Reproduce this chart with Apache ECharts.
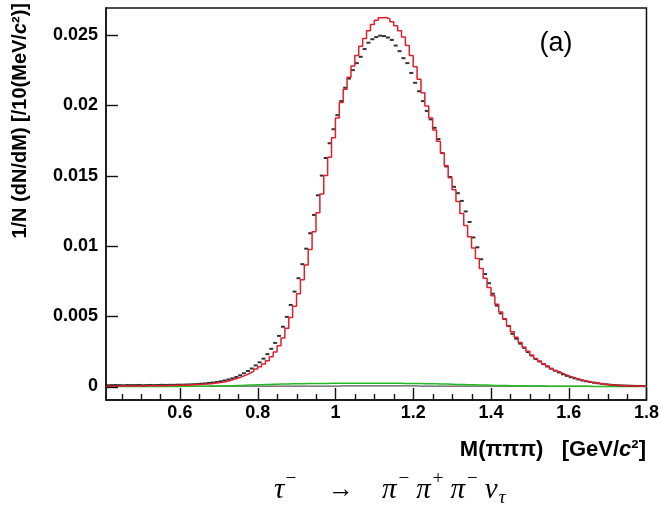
<!DOCTYPE html>
<html><head><meta charset="utf-8">
<script src="https://cdn.jsdelivr.net/npm/echarts@6/dist/echarts.min.js"></script>
<style>html,body{margin:0;padding:0;background:#fff}#c{width:662px;height:528px}</style>
</head><body><div id="c"></div>
<script>
// Histogram binning: 10 MeV bins from 0.41 to 1.80 GeV
const binStart = 0.41;
const binWidth = 0.01;

// MC prediction (red histogram)
const mcValues = [
0.00002,0.00002,0.00002,0.00003,0.00003,0.00003,0.00003,0.00004,0.00004,0.00004,
0.00005,0.00005,0.00005,0.00006,0.00006,0.00007,0.00007,0.00008,0.00009,0.00010,
0.00011,0.00012,0.00013,0.00015,0.00016,0.00018,0.00020,0.00023,0.00026,0.00030,
0.00036,0.00043,0.00051,0.00060,0.00070,0.00081,0.00094,0.00108,0.00124,0.00141,
0.00160,0.00183,0.00212,0.00245,0.00290,0.00345,0.00415,0.00490,0.00570,0.00660,
0.00760,0.00865,0.00975,0.01100,0.01235,0.01370,0.01500,0.01630,0.01770,0.01910,
0.02020,0.02115,0.02200,0.02280,0.02355,0.02420,0.02475,0.02530,0.02575,0.02605,
0.02623,0.02625,0.02615,0.02595,0.02565,0.02530,0.02485,0.02425,0.02355,0.02275,
0.02185,0.02090,0.01995,0.01910,0.01825,0.01745,0.01660,0.01570,0.01485,0.01400,
0.01315,0.01230,0.01145,0.01065,0.00985,0.00910,0.00840,0.00770,0.00705,0.00645,
0.00585,0.00530,0.00480,0.00432,0.00390,0.00350,0.00313,0.00280,0.00250,0.00223,
0.00200,0.00180,0.00162,0.00145,0.00128,0.00113,0.00100,0.00088,0.00077,0.00067,
0.00058,0.00050,0.00043,0.00037,0.00031,0.00026,0.00022,0.00018,0.00015,0.00012,
0.00010,0.00008,0.00006,0.00005,0.00004,0.00003,0.00002,0.00002,0.00001
];

// Data (black points)
const dataValues = [
0.00009,0.00010,0.00011,0.00010,0.00009,0.00011,0.00010,0.00010,0.00011,0.00009,
0.00010,0.00011,0.00010,0.00011,0.00012,0.00011,0.00012,0.00012,0.00013,0.00013,
0.00014,0.00015,0.00016,0.00018,0.00020,0.00022,0.00025,0.00028,0.00032,0.00037,
0.00043,0.00050,0.00058,0.00068,0.00080,0.00094,0.00110,0.00128,0.00150,0.00172,
0.00198,0.00230,0.00268,0.00310,0.00360,0.00425,0.00495,0.00580,0.00675,0.00770,
0.00870,0.00980,0.01090,0.01220,0.01360,0.01500,0.01625,0.01730,0.01830,0.01930,
0.02030,0.02125,0.02190,0.02250,0.02300,0.02345,0.02400,0.02445,0.02470,0.02485,
0.02495,0.02492,0.02482,0.02465,0.02425,0.02385,0.02335,0.02300,0.02230,0.02160,
0.02100,0.02030,0.01960,0.01900,0.01840,0.01760,0.01660,0.01565,0.01490,0.01420,
0.01375,0.01320,0.01245,0.01170,0.01060,0.00990,0.00905,0.00800,0.00735,0.00660,
0.00575,0.00520,0.00480,0.00430,0.00375,0.00340,0.00305,0.00275,0.00245,0.00220,
0.00195,0.00178,0.00160,0.00142,0.00126,0.00112,0.00100,0.00087,0.00076,0.00066,
0.00058,0.00050,0.00043,0.00037,0.00032,0.00027,0.00023,0.00019,0.00016,0.00013,
0.00011,0.00009,0.00008,0.00007,0.00006,0.00005,0.00004,0.00004,0.00003
];

// Background (green histogram)
const bkgGreen = [
0,0,0,0,0,0,0,0,0,0,
0,0,0,0,0,0,0,0,0,0.00001,
0.00001,0.00001,0.00001,0.00002,0.00002,0.00002,0.00003,0.00003,0.00004,0.00004,
0.00005,0.00005,0.00006,0.00007,0.00008,0.00009,0.00010,0.00011,0.00012,0.00013,
0.00014,0.00015,0.00016,0.00016,0.00017,0.00018,0.00018,0.00019,0.00019,0.00020,
0.00020,0.00021,0.00021,0.00021,0.00022,0.00022,0.00022,0.00023,0.00023,0.00023,
0.00023,0.00024,0.00024,0.00024,0.00024,0.00024,0.00024,0.00024,0.00024,0.00024,
0.00024,0.00024,0.00023,0.00023,0.00023,0.00023,0.00022,0.00022,0.00022,0.00021,
0.00021,0.00020,0.00020,0.00019,0.00019,0.00018,0.00017,0.00017,0.00016,0.00015,
0.00015,0.00014,0.00013,0.00013,0.00012,0.00011,0.00010,0.00010,0.00009,0.00008,
0.00008,0.00007,0.00007,0.00006,0.00006,0.00005,0.00005,0.00004,0.00004,0.00004,
0.00003,0.00003,0.00003,0.00002,0.00002,0.00002,0.00002,0.00001,0.00001,0.00001,
0.00001,0.00001,0.00001,0.00001,0,0,0,0,0,0,
0,0,0,0,0,0,0,0,0
];

// Second small background (dark histogram)
const bkgDark = [
0,0,0,0,0,0,0,0,0,0,
0,0,0,0,0,0,0,0,0,0,
0,0,0,0.00001,0.00001,0.00001,0.00001,0.00001,0.00002,0.00002,
0.00002,0.00002,0.00002,0.00002,0.00002,0.00002,0.00002,0.00002,0.00002,0.00002,
0.00003,0.00003,0.00003,0.00003,0.00003,0.00003,0.00003,0.00003,0.00003,0.00003,
0.00003,0.00003,0.00003,0.00003,0.00003,0.00003,0.00003,0.00003,0.00003,0.00003,
0.00004,0.00004,0.00004,0.00004,0.00004,0.00004,0.00004,0.00004,0.00004,0.00004,
0.00004,0.00004,0.00004,0.00004,0.00004,0.00004,0.00004,0.00004,0.00004,0.00004,
0.00003,0.00003,0.00003,0.00003,0.00003,0.00003,0.00003,0.00003,0.00003,0.00003,
0.00003,0.00003,0.00003,0.00003,0.00003,0.00003,0.00003,0.00003,0.00003,0.00003,
0.00002,0.00002,0.00002,0.00002,0.00002,0.00002,0.00002,0.00002,0.00002,0.00002,
0.00002,0.00002,0.00001,0.00001,0.00001,0.00001,0.00001,0.00001,0.00001,0.00001,
0.00001,0.00001,0.00001,0.00001,0.00001,0,0,0,0,0,
0,0,0,0,0,0,0,0,0
];

const xTickValues = [0.6, 0.8, 1.0, 1.2, 1.4, 1.6, 1.8];
const xTickLabels = ['0.6', '0.8', '1', '1.2', '1.4', '1.6', '1.8'];
const xMinorTickValues = [0.45,0.5,0.55,0.65,0.7,0.75,0.85,0.9,0.95,1.05,1.1,1.15,1.25,1.3,1.35,1.45,1.5,1.55,1.65,1.7,1.75];
const yTickValues = [0, 0.005, 0.01, 0.015, 0.02, 0.025];
const yTickLabels = ['0', '0.005', '0.01', '0.015', '0.02', '0.025'];

const xMin = 0.41, xMax = 1.8, yMin = -0.00096, yMax = 0.02692;

function edgeOf(i) { return +(binStart + i * binWidth).toFixed(4); }
function stepData(vals) {
  const out = vals.map((v, i) => [edgeOf(i), v]);
  out.push([edgeOf(vals.length), vals[vals.length - 1]]);
  return out;
}
function labelFor(values, labels) {
  return function (v) {
    for (let i = 0; i < values.length; i++) if (Math.abs(values[i] - v) < 1e-9) return labels[i];
    return '';
  };
}
// tick marks drawn inside the frame through the axis scales
function tickSeries(vals, dir, len) {
  return {
    type: 'custom', silent: true, z: 10,
    data: vals.map(v => dir === 'x' ? [v, yMin] : [xMin, v]),
    renderItem: function (params, api) {
      const p = api.coord([api.value(0), api.value(1)]);
      const shape = dir === 'x'
        ? { x1: Math.round(p[0]) + 0.5, y1: p[1], x2: Math.round(p[0]) + 0.5, y2: p[1] - len }
        : { x1: p[0], y1: Math.round(p[1]) + 0.5, x2: p[0] + len, y2: Math.round(p[1]) + 0.5 };
      return { type: 'line', shape: shape, style: { stroke: '#111', lineWidth: 1.4 } };
    }
  };
}

const sans = "'Liberation Sans', Arial, Helvetica, sans-serif";
const serif = "'Liberation Serif', 'DejaVu Serif', serif";

const chart = echarts.init(document.getElementById('c'));

chart.setOption({
  animation: false,
  grid: { left: 106, top: 8, width: 541, height: 392, show: true, borderColor: '#111', borderWidth: 1.5 },
  xAxis: {
    type: 'value', min: xMin, max: xMax,
    axisLine: { show: true, onZero: false, lineStyle: { color: '#111', width: 1.5 } }, splitLine: { show: false },
    axisTick: { show: false },
    axisLabel: { show: true, customValues: xTickValues, formatter: labelFor(xTickValues, xTickLabels), margin: 4,
      fontFamily: sans, fontWeight: 'bold', fontSize: 18, color: '#000' }
  },
  yAxis: {
    type: 'value', min: yMin, max: yMax,
    axisLine: { show: true, onZero: false, lineStyle: { color: '#111', width: 1.5 } }, splitLine: { show: false },
    axisTick: { show: false },
    axisLabel: { show: true, customValues: yTickValues, formatter: labelFor(yTickValues, yTickLabels), margin: 8,
      fontFamily: sans, fontWeight: 'bold', fontSize: 18, color: '#000' }
  },
  series: [
    tickSeries(xTickValues, 'x', 12),
    tickSeries(xMinorTickValues, 'x', 6),
    tickSeries(yTickValues, 'y', 12),
    { type: 'line', name: 'bkg2', step: 'end', data: stepData(bkgDark), showSymbol: false, symbol: 'none', z: 2,
      lineStyle: { color: '#555', width: 1.2 }, silent: true },
    { type: 'line', name: 'bkg', step: 'end', data: stepData(bkgGreen), showSymbol: false, symbol: 'none', z: 3,
      lineStyle: { color: '#22bb22', width: 1.5 }, silent: true },
    { type: 'scatter', name: 'data', data: dataValues.map((v, i) => [+(binStart + (i + 0.5) * binWidth).toFixed(4), v]),
      symbol: 'rect', symbolSize: [4, 2], itemStyle: { color: '#000' }, z: 4, silent: true },
    { type: 'line', name: 'MC', step: 'end', data: stepData(mcValues), showSymbol: false, symbol: 'none', z: 5,
      lineStyle: { color: '#e0202c', width: 1.5 }, silent: true }
  ]
});

// caption: tau- -> pi- pi+ pi- nu_tau, laid out by measured widths
const capBase = 490;
const capLeft = 274;
const capPieces = [
  { t: 'τ', dy: 0, f: 'italic', s: 29, gap: 1 },
  { t: '−', dy: -11, f: 'normal', s: 19, gap: 32 },
  { t: '→', dy: 0, f: 'normal', s: 26, gap: 28 },
  { t: 'π', dy: 0, f: 'italic', s: 29, gap: 2 },
  { t: '−', dy: -11, f: 'normal', s: 19, gap: 7 },
  { t: 'π', dy: 0, f: 'italic', s: 29, gap: 2 },
  { t: '+', dy: -11, f: 'normal', s: 19, gap: 7 },
  { t: 'π', dy: 0, f: 'italic', s: 29, gap: 2 },
  { t: '−', dy: -11, f: 'normal', s: 19, gap: 7 },
  { t: 'ν', dy: 0, f: 'italic', s: 29, gap: 1 },
  { t: 'τ', dy: 8, f: 'italic', s: 19, gap: 0 }
];
const mctx = document.createElement('canvas').getContext('2d');
let cx = capLeft;
const graphics = [
  {
    type: 'text', x: 20, y: 3, rotation: Math.PI / 2,
    style: {
      text: '{b|1/N (dN/dM) [/10(MeV/}{i|c}{b|²)]}',
      align: 'right', verticalAlign: 'middle',
      rich: {
        b: { fontFamily: sans, fontWeight: 'bold', fontSize: 20, fill: '#000' },
        i: { fontFamily: sans, fontWeight: 'bold', fontStyle: 'italic', fontSize: 20, fill: '#000' }
      }
    }
  },
  {
    type: 'text', x: 646, y: 450,
    style: {
      text: '{b|M(πππ)   [GeV/}{i|c}{b|²]}',
      align: 'right', verticalAlign: 'middle',
      rich: {
        b: { fontFamily: sans, fontWeight: 'bold', fontSize: 22, fill: '#000' },
        i: { fontFamily: sans, fontWeight: 'bold', fontStyle: 'italic', fontSize: 22, fill: '#000' }
      }
    }
  },
  {
    type: 'text', x: 556, y: 44,
    style: { text: '(a)', fontFamily: sans, fontSize: 27, fill: '#000', align: 'center', verticalAlign: 'middle' }
  }
];
capPieces.forEach(p => {
  mctx.font = p.f + ' ' + p.s + 'px ' + serif;
  const w = mctx.measureText(p.t).width;
  graphics.push({
    type: 'text', x: cx, y: capBase + p.dy,
    style: { text: p.t, fontFamily: serif, fontStyle: p.f, fontSize: p.s, fill: '#000', align: 'left', verticalAlign: 'middle' }
  });
  cx += w + p.gap;
});
chart.setOption({ graphic: graphics });
</script>
</body></html>
